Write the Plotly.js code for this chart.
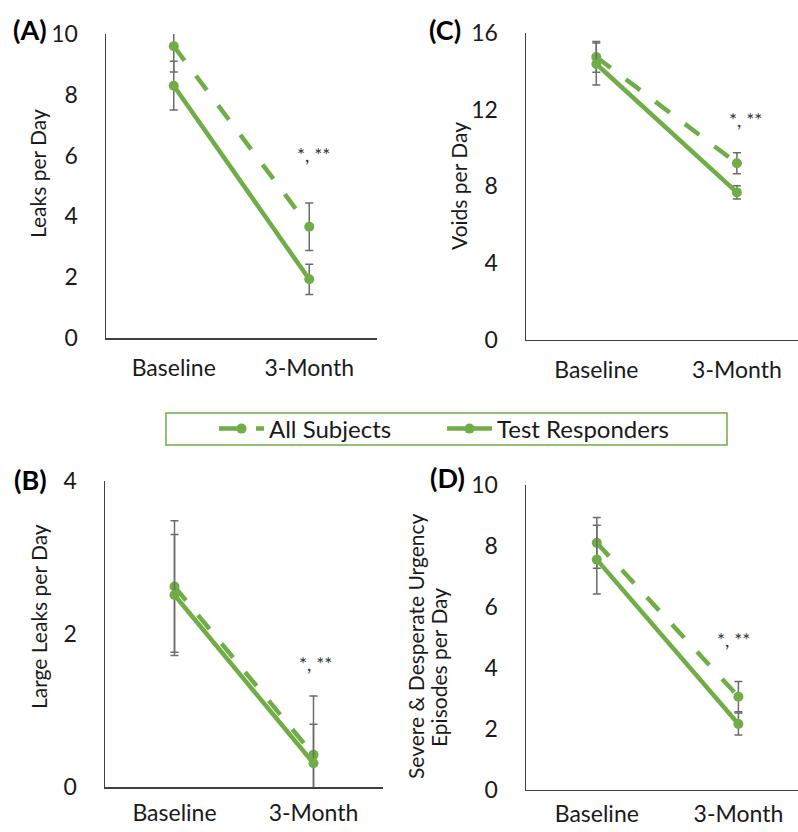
<!DOCTYPE html>
<html>
<head>
<meta charset="utf-8">
<script src="https://cdn.plot.ly/plotly-3.0.1.min.js"></script>
<style>html,body{margin:0;padding:0;background:#fff}#chart{width:798px;height:832px}</style>
</head>
<body>
<div id="chart"></div>
<script>
// ---- data ----
const categories = ["Baseline", "3-Month"];
const seriesNames = ["All Subjects", "Test Responders"];

// (A) Leaks per Day
const leaksAll = [9.6, 3.66];
const leaksAllErr = [0.85, 0.78];
const leaksTest = [8.3, 1.93];
const leaksTestErr = [0.8, 0.5];

// (C) Voids per Day
const voidsAll = [14.75, 9.2];
const voidsAllErr = [0.8, 0.55];
const voidsTest = [14.38, 7.68];
const voidsTestErr = [1.1, 0.34];

// (B) Large Leaks per Day
const largeAll = [2.62, 0.42];
const largeAllErr = [0.86, 0.77];
const largeTest = [2.51, 0.31];
const largeTestErr = [0.79, 0.51];

// (D) Severe & Desperate Urgency Episodes per Day
const urgAll = [8.1, 3.05];
const urgAllErr = [0.83, 0.5];
const urgTest = [7.55, 2.15];
const urgTestErr = [1.13, 0.36];

const yTitles = ["Leaks per Day", "Voids per Day", "Large Leaks per Day", ["Severe & Desperate Urgency", "Episodes per Day"]];
const panelLabels = ["(A)", "(C)", "(B)", "(D)"];
const sigLabel = "*, **";

// ---- styling ----
const W = 798, H = 832;
const px = v => v / W;
const py = v => 1 - v / H;
const GREEN = "#70AD47";
const ERR = "#6b6b6b";
const FONT = "Lato, 'Open Sans', sans-serif";
const TICK = 23, TITLE = 21;

function mk(y, err, name, xa, ya, dashed, show) {
  return {
    x: categories, y: y, name: name, type: "scatter", mode: "lines+markers",
    xaxis: xa, yaxis: ya, showlegend: show, legendgroup: name,
    line: {color: GREEN, width: 4.5, dash: dashed ? "18px,19px" : "solid"},
    marker: {color: GREEN, size: 10},
    error_y: {type: "data", array: err, visible: true, color: ERR, thickness: 1.5, width: 4}
  };
}

const traces = [
  mk(leaksAll, leaksAllErr, seriesNames[0], "x", "y", true, true),
  mk(leaksTest, leaksTestErr, seriesNames[1], "x", "y", false, true),
  mk(voidsAll, voidsAllErr, seriesNames[0], "x2", "y2", true, false),
  mk(voidsTest, voidsTestErr, seriesNames[1], "x2", "y2", false, false),
  mk(largeAll, largeAllErr, seriesNames[0], "x3", "y3", true, false),
  mk(largeTest, largeTestErr, seriesNames[1], "x3", "y3", false, false),
  mk(urgAll, urgAllErr, seriesNames[0], "x4", "y4", true, false),
  mk(urgTest, urgTestErr, seriesNames[1], "x4", "y4", false, false)
];

function xax(d0, d1, r1, anchor, standoff) {
  return {domain: [px(d0), px(d1)], anchor: anchor, type: "category", range: [-0.5, r1],
    showline: true, linecolor: "#404040", linewidth: 1.5, showgrid: false, zeroline: false,
    ticks: "", ticklabelstandoff: standoff, tickfont: {family: FONT, size: TICK, color: "#1a1a1a"}, fixedrange: true};
}
function yax(top, bot, rmax, dtick, anchor) {
  return {domain: [py(bot), py(top)], anchor: anchor, range: [0, rmax], dtick: dtick,
    showline: true, linecolor: "#404040", linewidth: 1.5, showgrid: false, zeroline: false,
    ticks: "", ticklabelstandoff: 22, tickfont: {family: FONT, size: TICK, color: "#1a1a1a"}, fixedrange: true};
}

const ann = [];
function txt(x, y, t, size, opts) {
  ann.push(Object.assign({xref: "paper", yref: "paper", x: px(x), y: py(y), text: t, showarrow: false,
    xanchor: "center", yanchor: "middle", font: {family: FONT, size: size, color: "#1a1a1a"}}, opts || {}));
}
// y-axis titles
txt(37, 174, yTitles[0], TITLE, {textangle: -90});
txt(458, 186, yTitles[1], TITLE, {textangle: -90});
txt(38, 617, yTitles[2], TITLE, {textangle: -90});
txt(415, 646, yTitles[3][0], TITLE, {textangle: -90});
txt(438, 668, yTitles[3][1], TITLE, {textangle: -90});
// panel labels
const bold = {font: {family: FONT, size: 27, color: "#000", weight: "bold"}};
txt(30, 29, "<b>" + panelLabels[0] + "</b>", 27, bold);
txt(445, 29, "<b>" + panelLabels[1] + "</b>", 27, bold);
txt(30, 479, "<b>" + panelLabels[2] + "</b>", 27, bold);
txt(447, 478, "<b>" + panelLabels[3] + "</b>", 27, bold);
// significance markers
const sig = {font: {family: FONT, size: 19, color: "#333"}};
txt(313, 155, sigLabel, 19, sig);
txt(745, 119, sigLabel, 19, sig);
txt(315, 663, sigLabel, 19, sig);
txt(733, 639, sigLabel, 19, sig);

const layout = {
  width: W, height: H, margin: {l: 0, r: 0, t: 0, b: 0},
  paper_bgcolor: "#fff", plot_bgcolor: "rgba(0,0,0,0)",
  xaxis: xax(106, 377, 1.5, "y", 9),
  yaxis: yax(34, 338, 10, 2, "x"),
  xaxis2: xax(526, 798, -0.5 + 272 / 140.6, "y2", 9),
  yaxis2: yax(33, 339.5, 16, 4, "x2"),
  xaxis3: xax(105, 383, 1.5, "y3", 5),
  yaxis3: yax(481, 787, 4, 2, "x3"),
  xaxis4: xax(526, 798, -0.5 + 272 / 141.6, "y4", 3),
  yaxis4: yax(485, 789.5, 10, 2, "x4"),
  showlegend: true,
  legend: {orientation: "h", x: px(214), xanchor: "left", y: py(429), yanchor: "middle",
    font: {family: FONT, size: 24, color: "#1a1a1a"}, itemwidth: 45, entrywidth: 168,
    bgcolor: "rgba(0,0,0,0)", borderwidth: 0, traceorder: "normal"},
  shapes: [{type: "rect", xref: "paper", yref: "paper", x0: px(166), x1: px(727), y0: py(445), y1: py(413),
    line: {color: GREEN, width: 1.5}, fillcolor: "rgba(0,0,0,0)"}],
  annotations: ann
};

Plotly.newPlot("chart", traces, layout, {displayModeBar: false, staticPlot: true});
</script>
</body>
</html>
